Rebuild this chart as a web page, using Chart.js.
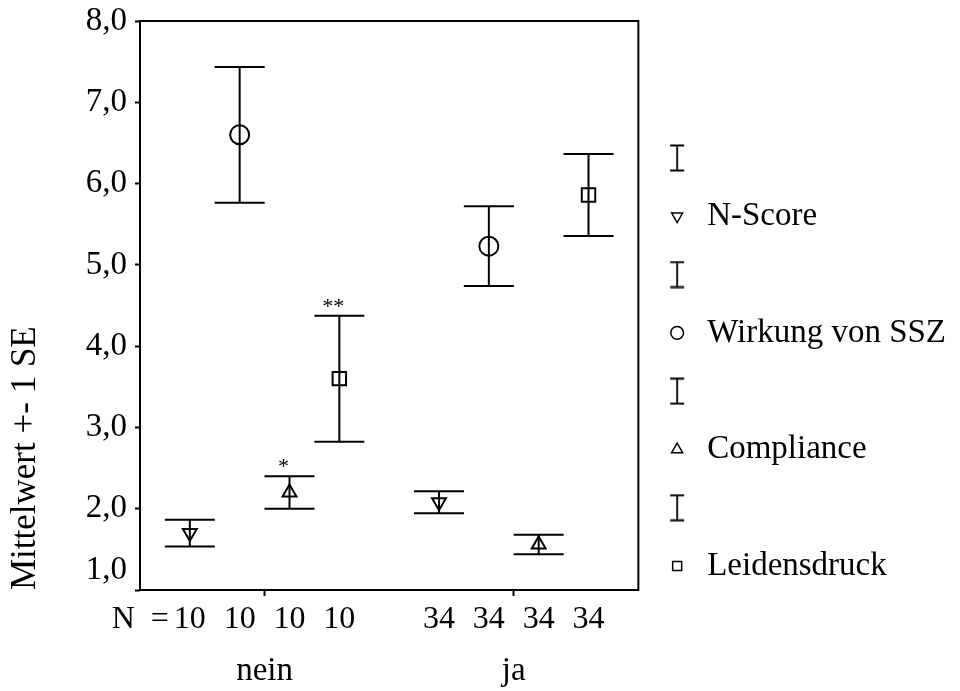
<!DOCTYPE html>
<html>
<head>
<meta charset="utf-8">
<script src="https://cdn.jsdelivr.net/npm/chart.js@4.4.0/dist/chart.umd.min.js"></script>
<style>
  html, body { margin: 0; padding: 0; background: #fff; }
  #wrap { width: 960px; height: 691px; }
</style>
</head>
<body>
<div id="wrap"><canvas id="grafico"></canvas></div>
<script>
// Werte
const gruppen = ['nein', 'ja']
const reihen = ['N-Score', 'Wirkung von SSZ', 'Compliance', 'Leidensdruck']
const fallzahl = [10, 34]

const mittelNScore = [1.70, 2.08]
const seNScore = [0.165, 0.135]
const mittelWirkung = [6.60, 5.23]
const seWirkung = [0.835, 0.49]
const mittelCompliance = [2.20, 1.56]
const seCompliance = [0.20, 0.12]
const mittelLeidensdruck = [3.60, 5.86]
const seLeidensdruck = [0.775, 0.505]

const signifikanzNein = ['', '', '*', '**']
const yTicks = [1, 2, 3, 4, 5, 6, 7, 8]

const mittel = [mittelNScore, mittelWirkung, mittelCompliance, mittelLeidensdruck]
const se = [seNScore, seWirkung, seCompliance, seLeidensdruck]
const symbole = ['triangle', 'circle', 'triangle', 'rect']
const drehung = [180, 0, 0, 0]
const symbolRadius = [8, 9.5, 8, 9.5]

Chart.defaults.font.family = '"Liberation Serif", serif'
Chart.defaults.color = '#000'

function posX(gruppe, reihe) {
    return gruppe + (reihe - 1.5) * 0.2
}

function formatZahl(wert) {
    return wert.toFixed(1).replace('.', ',')
}

// Datensaetze: je Gruppe unten, Mittelwert, oben, Luecke
const datensaetze = []
for (let r = 0; r < reihen.length; r++) {
    const punkte = []
    for (let g = 0; g < gruppen.length; g++) {
        const x = posX(g, r)
        punkte.push({ x: x, y: mittel[r][g] - se[r][g] })
        punkte.push({ x: x, y: mittel[r][g] })
        punkte.push({ x: x, y: mittel[r][g] + se[r][g] })
        punkte.push({ x: x, y: null })
    }
    datensaetze.push({
        label: reihen[r],
        data: punkte,
        showLine: true,
        spanGaps: false,
        borderColor: '#000',
        borderWidth: 2,
        pointBorderColor: '#000',
        pointBackgroundColor: 'rgba(0,0,0,0)',
        pointBorderWidth: 2,
        pointStyle: (c) => c.dataIndex % 4 === 1 ? symbole[r] : 'line',
        pointRadius: (c) => c.dataIndex % 4 === 1 ? symbolRadius[r] : 25,
        pointRotation: (c) => c.dataIndex % 4 === 1 ? drehung[r] : 0
    })
}

// Legendensymbol fuer den Fehlerbalken
const fehlerbalken = document.createElement('canvas')
fehlerbalken.width = 16
fehlerbalken.height = 28
const fb = fehlerbalken.getContext('2d')
fb.strokeStyle = '#000'
fb.lineWidth = 1.8
fb.beginPath()
fb.moveTo(1, 1.5); fb.lineTo(15, 1.5)
fb.moveTo(8, 1.5); fb.lineTo(8, 26.5)
fb.moveTo(1, 26.5); fb.lineTo(15, 26.5)
fb.stroke()

const legendeEintraege = []
for (let r = 0; r < reihen.length; r++) {
    legendeEintraege.push({
        text: '', pointStyle: fehlerbalken, fillStyle: 'rgba(0,0,0,0)',
        strokeStyle: '#000', lineWidth: 1.5, hidden: false, datasetIndex: r
    })
    legendeEintraege.push({
        text: reihen[r], pointStyle: symbole[r], rotation: drehung[r],
        fillStyle: 'rgba(0,0,0,0)', strokeStyle: '#000', lineWidth: 1.5,
        hidden: false, datasetIndex: r
    })
}

const zusatz = {
    id: 'zusatz',
    afterDatasetsDraw(chart) {
        const { ctx, chartArea, scales } = chart
        const x = scales.x
        const y = scales.y
        ctx.save()
        ctx.strokeStyle = '#000'
        ctx.lineWidth = 2
        ctx.strokeRect(chartArea.left, chartArea.top, chartArea.right - chartArea.left, chartArea.bottom - chartArea.top)

        ctx.fillStyle = '#000'
        ctx.font = '32px "Liberation Serif"'
        ctx.textAlign = 'center'
        ctx.textBaseline = 'alphabetic'
        const zeile = chartArea.bottom + 38
        for (let g = 0; g < gruppen.length; g++) {
            for (let r = 0; r < reihen.length; r++) {
                ctx.fillText(String(fallzahl[g]), x.getPixelForValue(posX(g, r)), zeile)
            }
        }
        ctx.textAlign = 'right'
        ctx.fillText('N  =', x.getPixelForValue(posX(0, 0)) - ctx.measureText('10').width / 2 - 5, zeile)

        ctx.font = '22px "Liberation Serif"'
        ctx.textAlign = 'center'
        for (let r = 0; r < reihen.length; r++) {
            if (!signifikanzNein[r]) continue
            const oben = mittel[r][0] + se[r][0]
            ctx.fillText(signifikanzNein[r], x.getPixelForValue(posX(0, r)) - 6, y.getPixelForValue(oben) - 3)
        }
        ctx.restore()
    }
}

new Chart(document.getElementById('grafico'), {
    type: 'scatter',
    data: { datasets: datensaetze },
    plugins: [zusatz],
    options: {
        responsive: true,
        maintainAspectRatio: false,
        animation: false,
        events: [],
        layout: { autoPadding: false, padding: { top: 21, right: 4, bottom: 0, left: 0 } },
        scales: {
            x: {
                type: 'linear',
                min: -0.5,
                max: 1.5,
                afterBuildTicks: (scale) => { scale.ticks = gruppen.map((g, i) => ({ value: i })) },
                afterFit: (scale) => {
                    scale.height = 101
                    scale.paddingLeft = 0
                    scale.paddingRight = 0
                },
                border: { display: false },
                grid: { drawOnChartArea: false, tickLength: 6, tickWidth: 2, tickColor: '#000' },
                ticks: {
                    font: { size: 33 },
                    padding: 56,
                    maxRotation: 0,
                    autoSkip: false,
                    callback: (wert) => gruppen[wert]
                }
            },
            y: {
                min: 1,
                max: 8,
                afterBuildTicks: (scale) => { scale.ticks = yTicks.map(v => ({ value: v })) },
                afterFit: (scale) => {
                    scale.width = 140
                    scale.paddingTop = 0
                    scale.paddingBottom = 0
                },
                border: { display: false },
                grid: { drawOnChartArea: false, tickLength: 5, tickWidth: 2, tickColor: '#000' },
                ticks: {
                    font: { size: 33 },
                    padding: 8,
                    autoSkip: false,
                    callback: (wert) => wert === yTicks[0] ? [formatZahl(wert), ''] : formatZahl(wert)
                },
                title: {
                    display: true,
                    text: 'Mittelwert +- 1 SE',
                    align: 'start',
                    font: { size: 35 },
                    padding: { top: 5, bottom: 0 }
                }
            }
        },
        plugins: {
            tooltip: { enabled: false },
            legend: {
                position: 'right',
                align: 'center',
                maxWidth: 340,
                title: { display: true, text: '', font: { size: 10 }, padding: 0 },
                labels: {
                    usePointStyle: true,
                    boxWidth: 27,
                    boxHeight: 9,
                    padding: 25.3,
                    color: '#000',
                    font: { size: 33 },
                    generateLabels: () => legendeEintraege
                }
            }
        }
    }
})
</script>
</body>
</html>
